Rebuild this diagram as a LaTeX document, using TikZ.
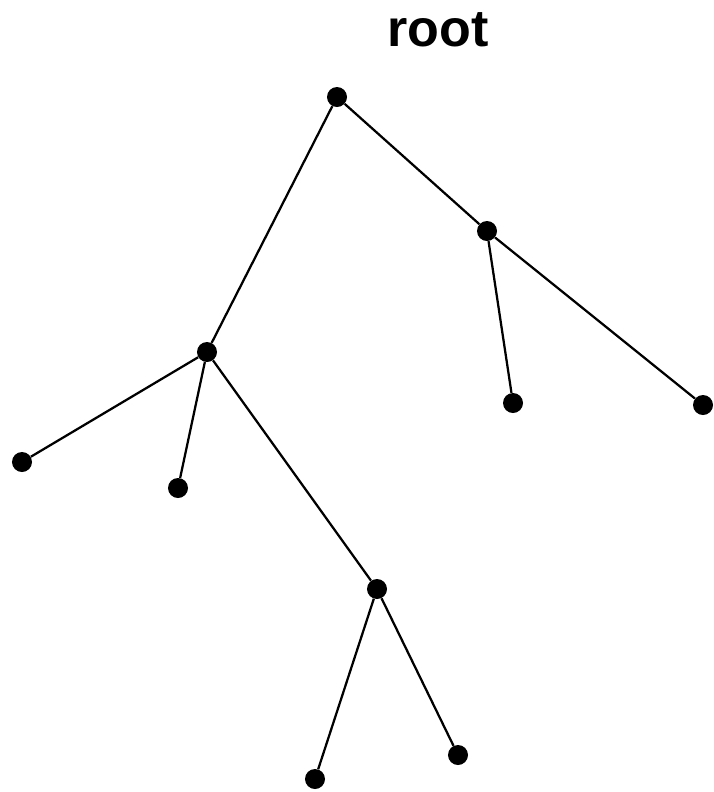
\documentclass[tikz,border=0pt]{standalone}
\usepackage{fontspec}
\setmainfont{Liberation Sans}
\usepackage{tikz}
\usetikzlibrary{positioning}

\begin{document}
\begin{tikzpicture}[x=0.025cm, y=-0.025cm,
    dot/.style={circle, fill=black, inner sep=0pt, minimum size=0.5cm},
    edge/.style={line width=1.6pt}]
    \useasboundingbox (0,0) rectangle (713,792);

    % Label of the tree
    \node[font=\bfseries\fontsize{37}{40}\selectfont, inner sep=0pt] (title) at (438,30) {root};

    % Define the tree nodes
    \node[dot] (Root) at (337,97) {};
    \node[dot] (NA) at (487,231) {};
    \node[dot] (NB) at (207,352) {};
    \node[dot] (NC) at (377,589) {};

    % Define the leaves
    \node[dot] (LA1) at (513,403) {};
    \node[dot] (LA2) at (703,405) {};
    \node[dot] (LB1) at (22,462) {};
    \node[dot] (LB2) at (178,488) {};
    \node[dot] (LC1) at (315,779) {};
    \node[dot] (LC2) at (458,755) {};

    % Draw the edges
    \draw[edge] (Root) -- (NA);
    \draw[edge] (Root) -- (NB);
    \draw[edge] (NA) -- (LA1);
    \draw[edge] (NA) -- (LA2);
    \draw[edge] (NB) -- (LB1);
    \draw[edge] (NB) -- (LB2);
    \draw[edge] (NB) -- (NC);
    \draw[edge] (NC) -- (LC1);
    \draw[edge] (NC) -- (LC2);

\end{tikzpicture}
\end{document}
